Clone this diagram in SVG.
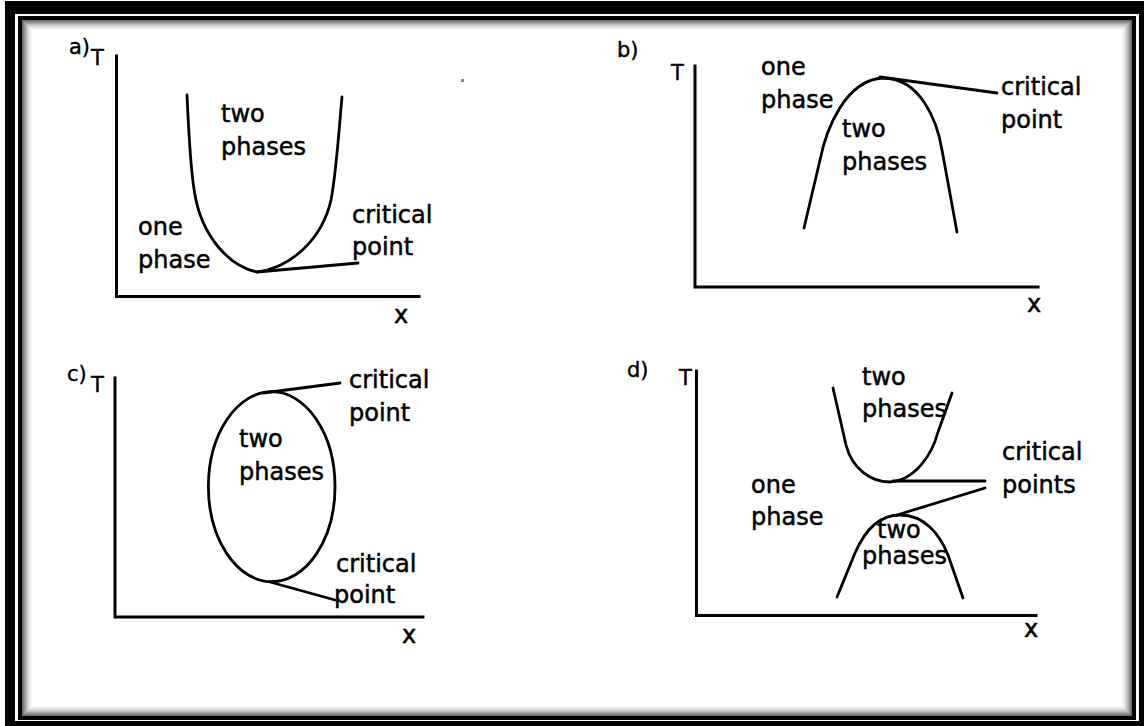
<svg xmlns="http://www.w3.org/2000/svg" width="1144" height="726" viewBox="0 0 1144 726">
<style>
.lbl{font-family:"DejaVu Sans","Liberation Sans",sans-serif;font-size:24px;fill:#000;stroke:#000;stroke-width:0.5}
.pl{font-family:"DejaVu Sans","Liberation Sans",sans-serif;font-size:21px;fill:#000;stroke:#000;stroke-width:0.4}
.ax{stroke:#000;stroke-width:3;fill:none;stroke-linecap:square}
.cv{stroke:#000;stroke-width:2.8;fill:none;stroke-linecap:round;stroke-linejoin:round}
.sh{fill:none;stroke:#000}
</style>
<rect x="0" y="0" width="1144" height="726" fill="#fff"/>
<g id="frame">
<path d="M5,1H1144V726H5Z M15,14V721H1139V14Z" fill="#000" fill-rule="evenodd"/>
<rect x="20" y="18" width="1114" height="700" fill="none" stroke="#000" stroke-width="4"/>
<rect class="sh" x="22.5" y="20.5" width="1109" height="695" stroke-opacity="0.6"/>
<rect class="sh" x="23.5" y="21.5" width="1107" height="693" stroke-opacity="0.5"/>
<rect class="sh" x="24.5" y="22.5" width="1105" height="691" stroke-opacity="0.42"/>
<rect class="sh" x="25.5" y="23.5" width="1103" height="689" stroke-opacity="0.34"/>
<rect class="sh" x="26.5" y="24.5" width="1101" height="687" stroke-opacity="0.27"/>
<rect class="sh" x="27.5" y="25.5" width="1099" height="685" stroke-opacity="0.2"/>
<rect class="sh" x="28.5" y="26.5" width="1097" height="683" stroke-opacity="0.15"/>
<rect class="sh" x="29.5" y="27.5" width="1095" height="681" stroke-opacity="0.1"/>
<rect class="sh" x="30.5" y="28.5" width="1093" height="679" stroke-opacity="0.06"/>
<rect class="sh" x="31.5" y="29.5" width="1091" height="677" stroke-opacity="0.03"/>
</g>
<rect x="461" y="79" width="3" height="3" fill="#888"/>

<g id="panel-a">
<text class="pl" x="69" y="54" font-size="20">a)</text>
<text class="pl" x="91" y="65" font-size="20">T</text>
<path class="ax" d="M116.5,56V296.5H419"/>
<text class="lbl" x="394" y="323">x</text>
<path class="cv" d="M187,95 C189,140 191,175 195,195 C202,235 228,266 257,272 C290,268 322,240 331,200 C336,175 339,130 342,97"/>
<text class="lbl" x="221" y="122">two</text>
<text class="lbl" x="221" y="155">phases</text>
<text class="lbl" x="138" y="235">one</text>
<text class="lbl" x="138" y="268">phase</text>
<text class="lbl" x="352" y="223">critical</text>
<text class="lbl" x="352" y="255">point</text>
</g>

<g id="panel-b">
<text class="pl" x="617" y="57" font-size="22">b)</text>
<text class="pl" x="671" y="80" font-size="23">T</text>
<path class="ax" d="M695,66V287H1038"/>
<text class="lbl" x="1027" y="312">x</text>
<path class="cv" d="M804,228 L820,160 C826,130 845,80 883,78 C920,78 937,120 942,150 L957,232"/>
<text class="lbl" x="761" y="75">one</text>
<text class="lbl" x="761" y="108">phase</text>
<text class="lbl" x="842" y="137">two</text>
<text class="lbl" x="842" y="170">phases</text>
<text class="lbl" x="1001" y="95">critical</text>
<text class="lbl" x="1001" y="128">point</text>
</g>

<g id="panel-c">
<text class="pl" x="67" y="381" font-size="21">c)</text>
<text class="pl" x="91" y="392" font-size="20">T</text>
<path class="ax" d="M115,378V617H423"/>
<text class="lbl" x="402" y="643">x</text>
<ellipse class="cv" cx="271.7" cy="486.7" rx="63.3" ry="95"/>
<text class="lbl" x="239" y="447">two</text>
<text class="lbl" x="239" y="480">phases</text>
<text class="lbl" x="349" y="388">critical</text>
<text class="lbl" x="349" y="421">point</text>
<text class="lbl" x="336" y="572">critical</text>
<text class="lbl" x="334" y="603">point</text>
</g>

<g id="panel-d">
<text class="pl" x="627" y="377" font-size="22">d)</text>
<text class="pl" x="679" y="385" font-size="23">T</text>
<path class="ax" d="M696.5,371V615.5H1036"/>
<text class="lbl" x="1024" y="637">x</text>
<path class="cv" d="M833,388 L846,445 C852,468 870,482 890,482 C915,480 932,455 938,432 L952,393"/>
<path class="cv" d="M837,597 L855,553 C865,530 880,515 900,515 C925,515 940,535 948,555 L963,598"/>
<text class="lbl" x="862" y="385">two</text>
<text class="lbl" x="862" y="417">phases</text>
<text class="lbl" x="751" y="493">one</text>
<text class="lbl" x="751" y="525">phase</text>
<text class="lbl" x="877" y="538" font-size="22">two</text>
<text class="lbl" x="862" y="564" font-size="23">phases</text>
<text class="lbl" x="1002" y="460">critical</text>
<text class="lbl" x="1002" y="493">points</text>
</g>

<g id="connectors">
<path class="cv" d="M257,272 L358,263"/>
<path class="cv" d="M880,77 L997,93"/>
<path class="cv" d="M263,393 L340,383"/>
<path class="cv" d="M270,582 L335,600"/>
<path class="cv" d="M893,481 L985,481"/>
<path class="cv" d="M897,515 L985,488"/>
</g>
</svg>
